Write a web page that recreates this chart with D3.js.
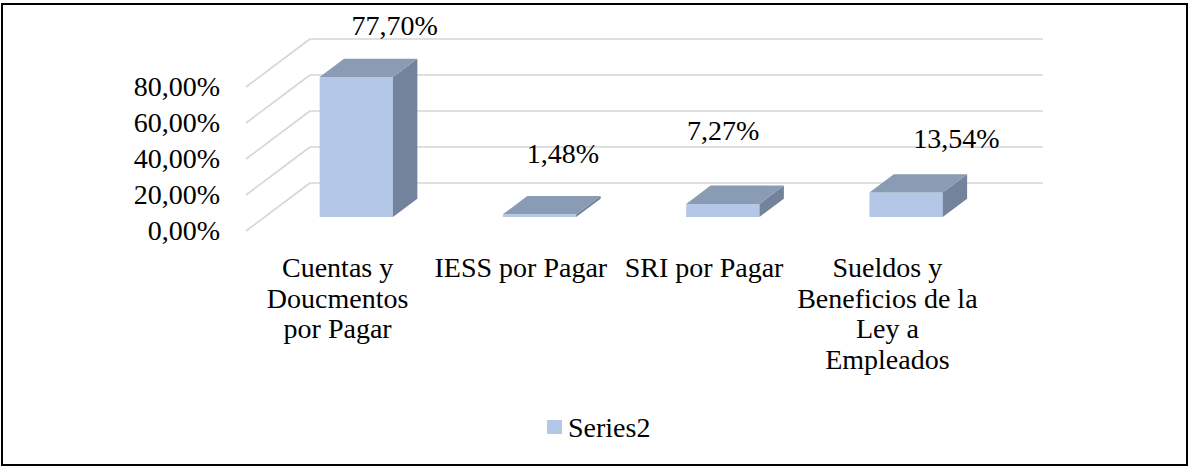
<!DOCTYPE html>
<html>
<head>
<meta charset="utf-8">
<script src="https://cdn.jsdelivr.net/npm/d3@7"></script>
<style>
  body { margin: 0; background: #fff; }
  svg text { font-family: "Liberation Serif", "Times New Roman", serif; fill: #000; }
</style>
</head>
<body>
<div id="chart"></div>
<script>
// Chart data
var categories = ["Cuentas y Doucmentos por Pagar", "IESS por Pagar", "SRI por Pagar", "Sueldos y Beneficios de la Ley a Empleados"];
var categoryLines = [
  ["Cuentas y", "Doucmentos", "por Pagar"],
  ["IESS por Pagar"],
  ["SRI por Pagar"],
  ["Sueldos y", "Beneficios de la", "Ley a", "Empleados"]
];
var values = [0.7770, 0.0148, 0.0727, 0.1354];
var yTicks = [0, 0.2, 0.4, 0.6, 0.8];
var seriesName = "Series2";

// label nudges (Excel places 3D data labels a bit loosely)
var labelNudge = [[57, -56], [42, -65], [19, -78], [69, -59]];

// Defining SVG size
var svgWidth = 1190;
var svgHeight = 467;

// front plane of the plot and the depth offset of the back wall
var plot = { left: 246, right: 979, top: 87, bottom: 231 };
var depth = { dx: 64, dy: -48 };
var barZ = [0.292, 0.673];

var colors = {
  front: "#b4c7e7",
  top: "#8a9bb4",
  side: "#73839c",
  grid: "#d6d6d6"
};

var pct = d3.formatLocale({ decimal: ",", thousands: ".", grouping: [3], currency: ["", ""] }).format(".2%");

var svg = d3.select("#chart")
  .append("svg")
  .attr("width", svgWidth)
  .attr("height", svgHeight);

// Outer border
svg.append("rect")
  .attr("x", 2)
  .attr("y", 4)
  .attr("width", 1185)
  .attr("height", 461)
  .attr("fill", "#fff")
  .attr("stroke", "#000")
  .attr("stroke-width", 2);

// Scales
var xScale = d3.scaleBand()
  .domain(categories)
  .range([plot.left, plot.right])
  .paddingInner(0.6)
  .paddingOuter(0.3);

var yScale = d3.scaleLinear()
  .domain([0, 0.8])
  .range([plot.bottom, plot.top]);

// project a point at depth z (0 = front, 1 = back wall)
function proj(x, y, z) {
  return [x + depth.dx * z, y + depth.dy * z];
}

// Gridlines: diagonal on the left wall, horizontal on the back wall
var grid = svg.append("g")
  .attr("fill", "none")
  .attr("stroke", colors.grid)
  .attr("stroke-width", 1.6);

grid.selectAll(".diag")
  .data(yTicks)
  .enter()
  .append("line")
  .attr("x1", plot.left)
  .attr("y1", d => yScale(d))
  .attr("x2", plot.left + depth.dx)
  .attr("y2", d => yScale(d) + depth.dy);

grid.selectAll(".back")
  .data(yTicks)
  .enter()
  .append("line")
  .attr("x1", plot.left + depth.dx)
  .attr("y1", d => yScale(d) + depth.dy)
  .attr("x2", plot.right + depth.dx)
  .attr("y2", d => yScale(d) + depth.dy);

// Y axis labels
var yAxis = d3.axisLeft(yScale)
  .tickValues(yTicks)
  .tickSize(0)
  .tickPadding(26)
  .tickFormat(pct);

var yAxisG = svg.append("g")
  .attr("transform", `translate(${plot.left}, 0)`)
  .call(yAxis);
yAxisG.select(".domain").remove();
yAxisG.selectAll("text")
  .attr("font-size", 28)
  .attr("font-family", "Liberation Serif, Times New Roman, serif")
  .attr("fill", "#000");

// 3D bars
var bars = svg.selectAll(".bar")
  .data(values)
  .enter()
  .append("g")
  .attr("class", "bar");

function pts(list) {
  return list.map(p => p.join(",")).join(" ");
}

bars.each(function(d, i) {
  var g = d3.select(this);
  var x0 = xScale(categories[i]);
  var x1 = x0 + xScale.bandwidth();
  var yb = yScale(0);
  var yt = yScale(d);
  var z0 = barZ[0], z1 = barZ[1];

  // front face
  g.append("polygon")
    .attr("points", pts([proj(x0, yt, z0), proj(x1, yt, z0), proj(x1, yb, z0), proj(x0, yb, z0)]))
    .attr("fill", colors.front);
  // right face
  g.append("polygon")
    .attr("points", pts([proj(x1, yt, z0), proj(x1, yt, z1), proj(x1, yb, z1), proj(x1, yb, z0)]))
    .attr("fill", colors.side);
  // top face
  g.append("polygon")
    .attr("points", pts([proj(x0, yt, z0), proj(x1, yt, z0), proj(x1, yt, z1), proj(x0, yt, z1)]))
    .attr("fill", colors.top);
});

// Data labels
svg.selectAll(".valueLabel")
  .data(values)
  .enter()
  .append("text")
  .attr("class", "valueLabel")
  .attr("x", (d, i) => xScale(categories[i]) + xScale.bandwidth() / 2 + labelNudge[i][0])
  .attr("y", (d, i) => yScale(d) + labelNudge[i][1])
  .attr("text-anchor", "middle")
  .attr("font-size", 28)
  .text(d => pct(d));

// Category labels
var catLabels = svg.selectAll(".catLabel")
  .data(categories)
  .enter()
  .append("text")
  .attr("class", "catLabel")
  .attr("text-anchor", "middle")
  .attr("font-size", 28)
  .attr("y", 277);

catLabels.each(function(d, i) {
  var cx = xScale(d) + xScale.bandwidth() / 2;
  d3.select(this).selectAll("tspan")
    .data(categoryLines[i])
    .enter()
    .append("tspan")
    .attr("x", cx)
    .attr("dy", (t, j) => j === 0 ? 0 : 30.5)
    .text(t => t);
});

// Legend
var legend = svg.append("g")
  .attr("transform", "translate(547, 420)");
legend.append("rect")
  .attr("width", 15)
  .attr("height", 14)
  .attr("fill", colors.front);
legend.append("text")
  .attr("x", 21)
  .attr("y", 17)
  .attr("font-size", 28)
  .text(seriesName);
</script>
</body>
</html>
